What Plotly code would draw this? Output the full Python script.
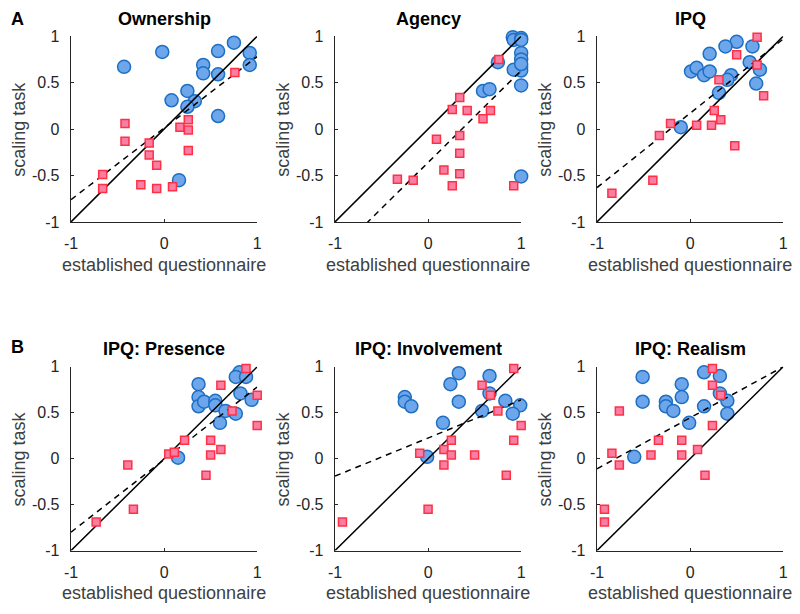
import plotly.graph_objects as go

titles = ["Ownership", "Agency", "IPQ", "IPQ: Presence", "IPQ: Involvement", "IPQ: Realism"]

blue_x = [
    [-0.43, -0.02, 0.75, 0.58, 0.92, 0.92, 0.42, 0.42, 0.58, 0.25, 0.08, 0.33, 0.25, 0.58, 0.16],
    [0.91, 0.92, 1.0, 1.0, 1.0, 1.0, 1.0, 0.92, 1.0, 0.75, 0.59, 0.66, 1.0, 1.0, 1.0],
    [0.50, 0.38, 0.67, 0.21, 0.01, 0.07, 0.15, 0.21, 0.44, 0.40, 0.64, 0.75, 0.71, 0.31, -0.10],
    [0.37, 0.81, 0.77, 0.88, 0.37, 0.37, 0.43, 0.55, 0.55, 0.82, 0.94, 0.66, 0.77, 0.60, 0.15],
    [0.33, 0.66, 0.24, -0.25, -0.25, -0.18, 0.33, 0.66, 0.83, 0.99, 0.91, 0.58, 0.16, -0.01],
    [-0.51, 0.15, 0.32, -0.09, -0.09, -0.51, -0.26, -0.26, -0.18, 0.15, 0.32, 0.40, 0.40, -0.01, -0.60],
]
blue_y = [
    [0.67, 0.83, 0.93, 0.84, 0.82, 0.69, 0.69, 0.60, 0.59, 0.41, 0.31, 0.30, 0.24, 0.14, -0.55],
    [0.99, 0.96, 0.98, 0.82, 0.75, 0.67, 0.63, 0.64, 0.47, 0.72, 0.41, 0.43, -0.51, 0.96, 0.70],
    [0.94, 0.89, 0.89, 0.81, 0.62, 0.66, 0.58, 0.62, 0.58, 0.53, 0.72, 0.64, 0.49, 0.39, 0.02],
    [0.81, 0.94, 0.89, 0.89, 0.67, 0.57, 0.62, 0.63, 0.58, 0.71, 0.64, 0.52, 0.49, 0.39, 0.01],
    [0.93, 0.90, 0.81, 0.67, 0.62, 0.57, 0.62, 0.71, 0.63, 0.58, 0.49, 0.52, 0.39, 0.02],
    [0.89, 0.94, 0.90, 0.81, 0.67, 0.62, 0.62, 0.57, 0.52, 0.57, 0.71, 0.63, 0.49, 0.39, 0.02],
]
red_x = [
    [-0.42, -0.42, -0.16, -0.16, -0.08, -0.66, -0.66, -0.25, -0.08, 0.09, 0.17, 0.26, 0.26, 0.26, 0.76],
    [0.76, 0.34, 0.26, 0.42, 0.67, 0.59, 0.09, 0.34, 0.34, 0.17, 0.34, -0.33, -0.16, 0.26, 0.92],
    [0.72, 0.50, 0.72, 0.31, 0.79, 0.26, 0.33, -0.21, 0.07, 0.23, -0.33, 0.48, -0.40, -0.84],
    [0.88, 0.61, 1.0, 0.73, 1.0, 0.22, 0.50, 0.61, 0.50, 0.05, 0.11, -0.39, 0.45, -0.33, -0.73],
    [0.92, 0.58, 0.67, 0.75, 1.0, 0.25, 0.92, 0.17, -0.09, 0.25, 0.50, 0.17, 0.84, 0.0, -0.92],
    [0.24, 0.24, 0.33, -0.76, 0.24, -0.34, -0.09, 0.08, -0.84, -0.42, -0.09, -0.76, 0.16, -0.92, -0.92],
]
red_y = [
    [0.06, -0.13, -0.15, -0.28, -0.39, -0.49, -0.64, -0.60, -0.64, -0.62, 0.02, 0.10, -0.01, -0.23, 0.61],
    [0.75, 0.34, 0.21, 0.20, 0.20, 0.11, -0.11, -0.07, -0.26, -0.44, -0.48, -0.54, -0.55, -0.61, -0.61],
    [0.99, 0.80, 0.69, 0.53, 0.36, 0.20, 0.10, 0.06, 0.04, 0.04, -0.07, -0.18, -0.55, -0.69],
    [0.98, 0.80, 0.69, 0.52, 0.36, 0.20, 0.20, 0.10, 0.04, 0.05, 0.07, -0.07, -0.18, -0.55, -0.69],
    [0.98, 0.80, 0.69, 0.52, 0.36, 0.20, 0.20, 0.10, 0.06, 0.04, 0.04, -0.07, -0.18, -0.55, -0.69],
    [0.98, 0.80, 0.69, 0.52, 0.36, 0.20, 0.20, 0.10, 0.06, 0.04, 0.04, -0.07, -0.18, -0.55, -0.69],
]
fit_slope = [0.77, 0.99, 0.80, 0.79, 0.415, 0.555]
fit_intercept = [0.01, -0.36, 0.17, -0.01, 0.225, 0.445]

y_ticks = [-1, -0.5, 0, 0.5, 1]
y_tick_text = ["-1", "-0.5", "0", "0.5", "1"]
x_ticks = [-1, 0, 1]
x_tick_text = ["-1", "0", "1"]

W, H = 800, 614
col_px = [(65, 254), (333, 522), (599, 788)]
row_px = [(29, 220), (369, 558)]

BLUE_FILL = "#6ea6ec"
BLUE_LINE = "#1d6fc2"
RED_FILL = "#f97ea3"
RED_LINE = "#ff3045"
TXT = "#262626"
FONT = "Liberation Sans, Arial, sans-serif"

fig = go.Figure()
annotations = []
for i in range(6):
    r, c = divmod(i, 3)
    x0, x1 = col_px[c]
    y0, y1 = row_px[r]
    ax = "" if i == 0 else str(i + 1)
    xa = "x" + ax
    ya = "y" + ax
    common = dict(
        range=[-1, 1], showgrid=False, zeroline=False, showline=True,
        linecolor="#262626", linewidth=1.3, ticks="inside", ticklen=3,
        tickcolor="#262626", tickfont=dict(family=FONT, size=16, color=TXT),
        fixedrange=True,
    )
    fig.layout["xaxis" + ax] = dict(
        common, domain=[x0 / W, x1 / W], anchor=ya,
        tickvals=x_ticks, ticktext=x_tick_text, ticklabelstandoff=7,
    )
    fig.layout["yaxis" + ax] = dict(
        common, domain=[1 - y1 / H, 1 - y0 / H], anchor=xa,
        tickvals=y_ticks, ticktext=y_tick_text, ticklabelstandoff=7,
    )
    fig.add_trace(go.Scatter(
        x=blue_x[i], y=blue_y[i], mode="markers", xaxis=xa, yaxis=ya,
        marker=dict(symbol="circle", size=13, color=BLUE_FILL,
                    line=dict(color=BLUE_LINE, width=1.5)),
        cliponaxis=False, showlegend=False,
    ))
    fig.add_trace(go.Scatter(
        x=[-1, 1], y=[-1, 1], mode="lines", xaxis=xa, yaxis=ya,
        line=dict(color="black", width=1.5), showlegend=False,
    ))
    fx = [-1, 1]
    fy = [fit_intercept[i] + fit_slope[i] * v for v in fx]
    fig.add_trace(go.Scatter(
        x=fx, y=fy, mode="lines", xaxis=xa, yaxis=ya,
        line=dict(color="black", width=1.5, dash="6px,5px"), showlegend=False,
    ))
    fig.add_trace(go.Scatter(
        x=red_x[i], y=red_y[i], mode="markers", xaxis=xa, yaxis=ya,
        marker=dict(symbol="square", size=8, color=RED_FILL,
                    line=dict(color=RED_LINE, width=1.5)),
        cliponaxis=False, showlegend=False,
    ))
    cx = (x0 + x1) / 2 / W
    annotations.append(dict(
        text="<b>" + titles[i] + "</b>", x=cx, y=1 - (y0 - 18) / H,
        xref="paper", yref="paper", showarrow=False,
        font=dict(family=FONT, size=18, color="black"), xanchor="center", yanchor="middle",
    ))
    annotations.append(dict(
        text="established questionnaire", x=cx, y=1 - (y1 + 44) / H,
        xref="paper", yref="paper", showarrow=False,
        font=dict(family=FONT, size=18, color="#404040"), xanchor="center", yanchor="middle",
    ))
    annotations.append(dict(
        text="scaling task", x=(x0 - 53) / W, y=1 - (y0 + y1) / 2 / H,
        xref="paper", yref="paper", showarrow=False, textangle=-90,
        font=dict(family=FONT, size=18, color="#404040"), xanchor="center", yanchor="middle",
    ))

for lbl, ypx in [("A", 11), ("B", 349)]:
    annotations.append(dict(
        text="<b>" + lbl + "</b>", x=2 / W, y=1 - ypx / H, xref="paper", yref="paper",
        showarrow=False, font=dict(family=FONT, size=18, color="black"),
        xanchor="left", yanchor="middle",
    ))

fig.update_layout(
    width=W, height=H, margin=dict(l=0, r=0, t=0, b=0),
    paper_bgcolor="white", plot_bgcolor="white",
    annotations=annotations,
)
fig.write_html(
    "out.html",
    config={"displayModeBar": False, "staticPlot": True},
    post_script="document.body.style.margin='0';document.body.style.overflow='hidden';",
)
